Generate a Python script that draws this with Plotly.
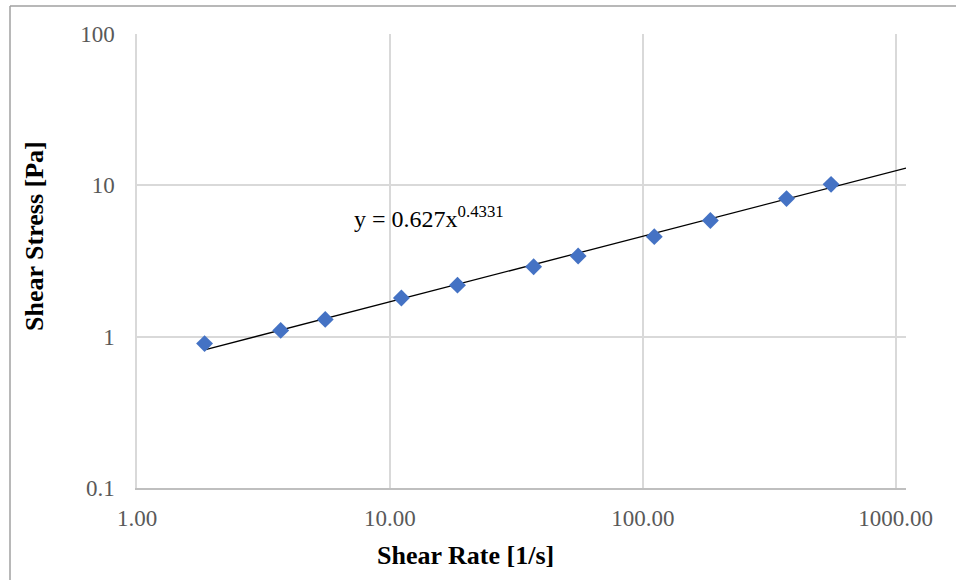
import numpy as np
import plotly.graph_objects as go

# ---- data ----
shear_rate = [1.85, 3.70, 5.55, 11.1, 18.5, 37.0, 55.5, 111.0, 185.0, 370.0, 555.0]
shear_stress = [0.90, 1.10, 1.30, 1.80, 2.19, 2.90, 3.41, 4.58, 5.85, 8.17, 10.15]

fit_coef = 0.627
fit_exp = 0.4331

x_tickvals = [1, 10, 100, 1000]
x_ticktext = ["1.00", "10.00", "100.00", "1000.00"]
y_tickvals = [0.1, 1, 10, 100]
y_ticktext = ["0.1", "1", "10", "100"]

x_max = 1098.0

# trendline from the fitted power law
trend_x = [shear_rate[0], 10.0, 100.0, x_max]
trend_y = [fit_coef * v ** fit_exp for v in trend_x]

FONT = "Liberation Serif"
W, H = 956, 580
L, R, T, B = 137, 50, 34, 92
PW, PH = W - L - R, H - T - B


def px(xp):
    return (xp - L) / PW


def py(yp):
    return (H - B - yp) / PH


fig = go.Figure()
fig.add_trace(go.Scatter(
    x=trend_x, y=trend_y, mode="lines",
    line=dict(color="black", width=1.3),
    hoverinfo="skip", showlegend=False,
))
fig.add_trace(go.Scatter(
    x=shear_rate, y=shear_stress, mode="markers",
    marker=dict(symbol="diamond", size=13, color="#4472c4", line=dict(width=0)),
    showlegend=False,
))

fig.update_xaxes(
    type="log", range=[0, np.log10(x_max)],
    tickvals=x_tickvals, ticktext=x_ticktext,
    showgrid=True, gridcolor="#d9d9d9", gridwidth=1.5,
    showline=True, linecolor="#bfbfbf", linewidth=1.5,
    ticks="", ticklabelstandoff=9,
    tickfont=dict(family=FONT, size=23, color="#595959"),
    zeroline=False,
)
fig.update_yaxes(
    type="log", range=[-1, 2],
    tickvals=y_tickvals, ticktext=y_ticktext,
    showgrid=True, gridcolor="#d9d9d9", gridwidth=1.5,
    showline=True, linecolor="#d9d9d9", linewidth=1.5,
    ticks="", ticklabelstandoff=16,
    tickfont=dict(family=FONT, size=23, color="#595959"),
    zeroline=False,
)

annotations = [
    dict(text="y = 0.627x<sup>0.4331</sup>", xref="paper", yref="paper",
         x=px(352), y=py(217), xanchor="left", yanchor="middle", showarrow=False,
         font=dict(family=FONT, size=24, color="black")),
    dict(text="<b>Shear Rate [1/s]</b>", xref="paper", yref="paper",
         x=px(465), y=py(555), xanchor="center", yanchor="middle", showarrow=False,
         font=dict(family=FONT, size=26, color="black")),
    dict(text="<b>Shear Stress [Pa]</b>", xref="paper", yref="paper",
         x=px(34), y=py(236), xanchor="center", yanchor="middle", showarrow=False,
         textangle=-90, font=dict(family=FONT, size=26, color="black")),
]

shapes = [
    dict(type="line", xref="paper", yref="paper", x0=px(10), x1=px(10), y0=py(6), y1=py(600),
         line=dict(color="#a0a0a0", width=1.5)),
    dict(type="line", xref="paper", yref="paper", x0=px(10), x1=px(980), y0=py(6), y1=py(6),
         line=dict(color="#a0a0a0", width=1.5)),
]

fig.update_layout(
    width=W, height=H,
    margin=dict(l=L, r=R, t=T, b=B),
    paper_bgcolor="white", plot_bgcolor="white",
    annotations=annotations, shapes=shapes,
    font=dict(family=FONT),
)

fig.write_html("out.html")
